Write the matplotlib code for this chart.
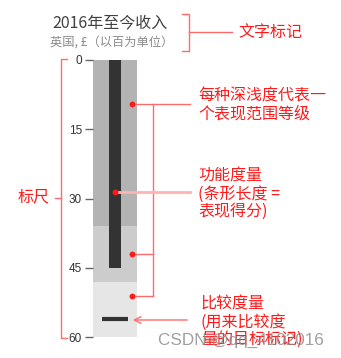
import matplotlib
matplotlib.use('Agg')
import matplotlib.pyplot as plt

plt.rcParams['font.family'] = ['Noto Sans CJK SC', 'DejaVu Sans']

# bullet chart data
ranges = [36, 48, 60]            # upper limits of the qualitative bands
range_colors = ['#b3b3b3', '#cccccc', '#e6e6e6']
measure = 45                     # performance bar
target = 56                      # comparative marker
ticks = [0, 15, 30, 45, 60]

title = '2016年至今收入'
subtitle = '英国, £（以百为单位）'

W, H = 341, 358
fig = plt.figure(figsize=(W / 100, H / 100), dpi=100)

# bullet axes, placed in pixels
x0, x1, y0, y1 = 93, 137, 60, 337
ax = fig.add_axes([x0 / W, 1 - y1 / H, (x1 - x0) / W, (y1 - y0) / H])
lo = 0
for hi, c in zip(ranges, range_colors):
    ax.bar(0, hi - lo, bottom=lo, width=1, color=c, align='center')
    lo = hi
ax.bar(0, measure, width=0.27, color='#333333')
ax.plot([-0.3, 0.3], [target, target], color='#333333', lw=3, solid_capstyle='butt')
ax.set_xlim(-0.5, 0.5)
ax.set_ylim(ranges[-1], 0)
ax.set_yticks(ticks)
ax.set_xticks([])
ax.tick_params(axis='y', length=6, width=1, color='#666666', labelcolor='#333333',
               labelsize=8.5, pad=2)
for lab in ax.get_yticklabels():
    lab.set_family('Liberation Sans')
for s in ax.spines.values():
    s.set_visible(False)

# overlay in pixel coordinates for the annotations
ov = fig.add_axes([0, 0, 1, 1], facecolor='none')
ov.set_xlim(0, W)
ov.set_ylim(H, 0)
ov.axis('off')

red = '#ff1a1a'
pink = '#ff6b6b'
lpink = '#ffb3b3'

ov.text(110, 23, title, ha='center', va='center', fontsize=11.5, color='#404040',
        fontweight='light')
ov.text(112, 42, subtitle, ha='center', va='center', fontsize=8.8, color='#8a8a8a',
        fontweight='light')

# title bracket
ov.plot([182, 189, 189, 182], [14, 14, 51, 51], color=pink, lw=1)
ov.plot([189, 232], [32, 32], color=pink, lw=1)
ov.text(238, 32, '文字标记', ha='left', va='center', fontsize=11.5, color=red)

# scale bracket
ov.plot([67, 61, 61, 67], [59, 59, 338, 338], color=pink, lw=1)
ov.plot([55, 61], [198, 198], color=pink, lw=1)
ov.text(18, 197, '标尺', ha='left', va='center', fontsize=11.5, color=red)

# range annotation
ov.plot([132, 190], [104, 104], color=pink, lw=1)
ov.plot([153, 153], [104, 296], color=pink, lw=1)
ov.plot([132, 153], [254, 254], color=pink, lw=1)
ov.plot([132, 153], [296, 296], color=pink, lw=1)
ov.scatter([132, 132, 132], [104, 254, 296], s=18, color=red, zorder=5, lw=0)
ov.text(198, 105, '每种深浅度代表一\n个表现范围等级', ha='left', va='center',
        fontsize=11.5, color=red, linespacing=1.1)

# measure annotation
ov.plot([115, 190], [192, 192], color=lpink, lw=2)
ov.scatter([115], [192], s=18, color=red, zorder=5, lw=0)
ov.text(198, 194, '功能度量\n(条形长度 =\n表现得分)', ha='left', va='center',
        fontsize=11.5, color=red, linespacing=1.05)

# target annotation
ov.annotate('', xy=(130, 320), xytext=(190, 320),
            arrowprops=dict(arrowstyle='->', color=pink, lw=1, mutation_scale=12))
ov.text(201, 322, '比较度量\n(用来比较度\n量的目标标记)', ha='left', va='center',
        fontsize=11.5, color=red, linespacing=1.05)

# watermark
ov.text(158, 340, 'CSDN @qq_4102016', ha='left', va='center', fontsize=12.3,
        color='#888888', alpha=0.8, family='Liberation Sans')

fig.savefig('out.png', dpi=100)
